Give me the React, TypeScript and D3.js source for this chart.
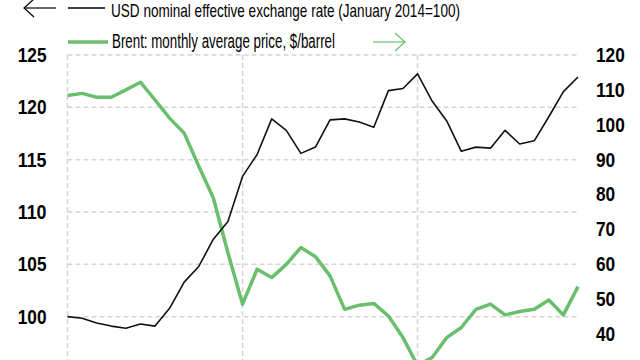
import React, { useEffect, useRef } from 'react';
import * as d3 from 'd3';

// monthly, Jan 2014 .. Dec 2016
const months = d3.range(36);
const usdIndex = [
  100.0, 99.85, 99.4, 99.1, 98.9, 99.3, 99.1, 100.8, 103.3, 104.8, 107.4, 109.1,
  113.4, 115.5, 118.9, 117.8, 115.6, 116.2, 118.8, 118.9, 118.6, 118.1, 121.6, 121.8,
  123.2, 120.6, 118.7, 115.8, 116.2, 116.1, 117.8, 116.5, 116.8, 119.1, 121.5, 122.9,
];
const brent = [
  108.4, 109.0, 107.9, 107.9, 110.0, 112.2, 107.1, 101.9, 97.6, 88.1, 79.0, 63.3,
  48.6, 58.6, 56.2, 60.0, 64.8, 62.2, 56.7, 47.1, 48.3, 48.8, 45.2, 39.0,
  31.0, 33.3, 39.0, 41.9, 47.1, 48.6, 45.5, 46.5, 47.1, 49.8, 45.5, 53.6,
];
const leftTicks = [100, 105, 110, 115, 120, 125];
const rightTicks = [40, 50, 60, 70, 80, 90, 100, 110, 120];
const yearStarts = [0, 12, 24];
const legendUsd = 'USD nominal effective exchange rate (January 2014=100)';
const legendBrent = 'Brent: monthly average price, $/barrel';

const W = 640;
const H = 360;
const GREEN = '#6abf6e';
const FONT = '"Liberation Sans", Arial, sans-serif';

export default function App() {
  const ref = useRef<SVGSVGElement>(null);

  useEffect(() => {
    const svg = d3.select(ref.current);
    svg.selectAll('*').remove();

    const x = d3.scaleLinear().domain([0, 35]).range([67.5, 578]);
    const yL = d3.scaleLinear().domain([95, 125]).range([369, 55]);
    const yR = d3.scaleLinear().domain([30, 120]).range([369, 55]);

    // grid
    const grid = svg.append('g').attr('stroke', '#d4d4d4').attr('stroke-width', 1.5)
      .attr('stroke-dasharray', '5,3');
    grid.selectAll('line.h').data(leftTicks).enter().append('line')
      .attr('x1', x(0)).attr('x2', x(35))
      .attr('y1', d => yL(d)).attr('y2', d => yL(d));
    grid.selectAll('line.v').data(yearStarts).enter().append('line')
      .attr('x1', d => x(d)).attr('x2', d => x(d))
      .attr('y1', yL(125)).attr('y2', H);

    // axes: condensed bold labels
    const styleTicks = (sel: any) => sel.selectAll('text')
      .attr('font-family', FONT).attr('font-size', 20).attr('font-weight', 'bold')
      .attr('fill', '#000')
      .attr('lengthAdjust', 'spacingAndGlyphs')
      .attr('textLength', (d: number) => String(d).length * 9.6);

    svg.append('g')
      .attr('transform', `translate(${x(0) - 21},0)`)
      .call(d3.axisLeft(yL).tickValues(leftTicks).tickSize(0).tickPadding(0))
      .call(g => g.select('.domain').remove())
      .call(styleTicks);

    svg.append('g')
      .attr('transform', `translate(${x(35) + 18},0)`)
      .call(d3.axisRight(yR).tickValues(rightTicks).tickSize(0).tickPadding(0))
      .call(g => g.select('.domain').remove())
      .call(styleTicks);

    // series
    const lineUsd = d3.line<number>().x((_, i) => x(months[i])).y(d => yL(d));
    const lineBrent = d3.line<number>().x((_, i) => x(months[i])).y(d => yR(d));

    svg.append('path').datum(brent)
      .attr('fill', 'none').attr('stroke', GREEN).attr('stroke-width', 3.5)
      .attr('stroke-linejoin', 'round').attr('d', lineBrent);
    svg.append('path').datum(usdIndex)
      .attr('fill', 'none').attr('stroke', '#111').attr('stroke-width', 1.6)
      .attr('stroke-linejoin', 'round').attr('d', lineUsd);

    // legend
    const leg = svg.append('g');
    const arrow = (g: any, x1: number, x2: number, y: number, color: string) => {
      const dir = Math.sign(x2 - x1);
      g.append('line').attr('x1', x1).attr('x2', x2).attr('y1', y).attr('y2', y)
        .attr('stroke', color).attr('stroke-width', 1.2);
      g.append('path')
        .attr('d', `M${x2 - dir * 10},${y - 9} L${x2},${y} L${x2 - dir * 10},${y + 9}`)
        .attr('fill', 'none').attr('stroke', color).attr('stroke-width', 1.2);
    };
    arrow(leg, 56, 24, 8, '#000');
    leg.append('line').attr('x1', 68).attr('x2', 105).attr('y1', 8).attr('y2', 8)
      .attr('stroke', '#000').attr('stroke-width', 1.5);
    leg.append('text').attr('x', 111).attr('y', 17).text(legendUsd)
      .attr('font-family', FONT).attr('font-size', 18.5).attr('fill', '#000')
      .attr('lengthAdjust', 'spacingAndGlyphs').attr('textLength', 349);

    leg.append('line').attr('x1', 68).attr('x2', 108).attr('y1', 42).attr('y2', 42)
      .attr('stroke', GREEN).attr('stroke-width', 3.5);
    leg.append('text').attr('x', 112).attr('y', 48).text(legendBrent)
      .attr('font-family', FONT).attr('font-size', 19.5).attr('fill', '#000')
      .attr('lengthAdjust', 'spacingAndGlyphs').attr('textLength', 223);
    arrow(leg, 373, 405, 42, GREEN);
  }, []);

  return (
    <svg ref={ref} width={W} height={H}
      style={{ position: 'absolute', left: 0, top: 0, background: '#fff' }} />
  );
}
